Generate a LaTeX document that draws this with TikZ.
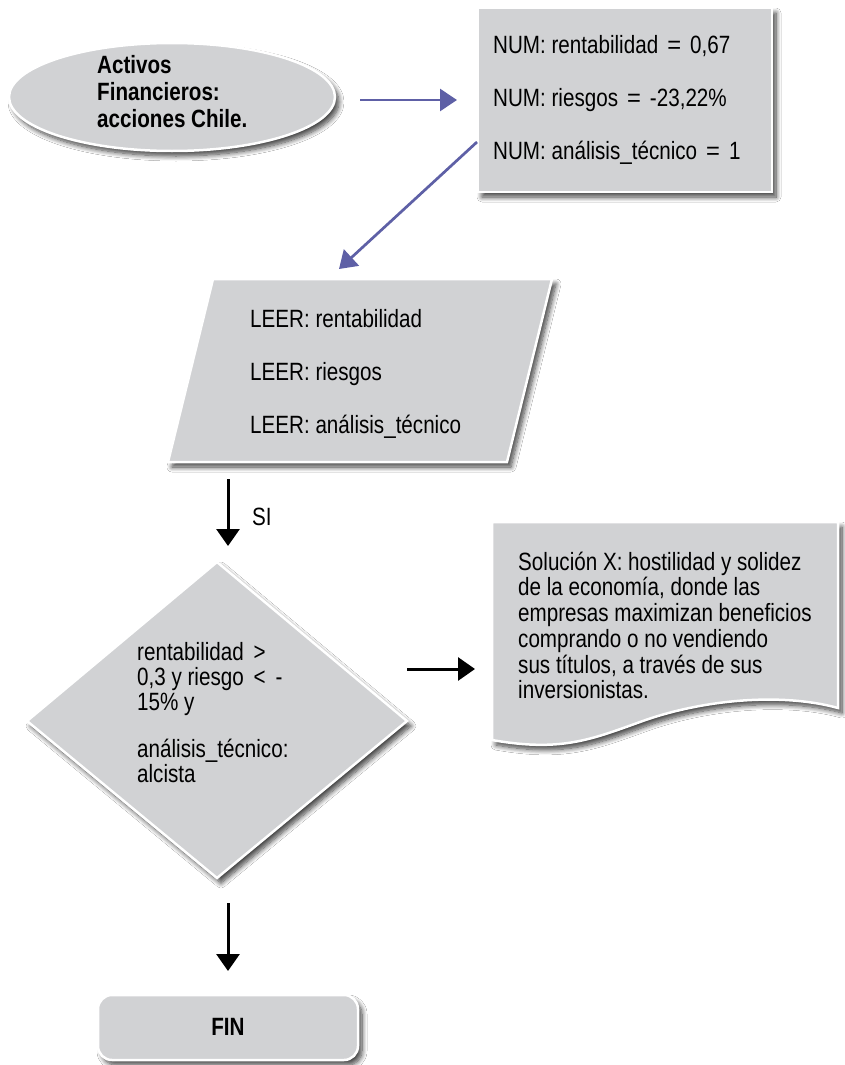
\documentclass[tikz,border=0pt]{standalone}
\usepackage{fontspec}
\setmainfont{Liberation Sans}[FakeStretch=0.825]
\usetikzlibrary{arrows.meta,shadows.blur}
\definecolor{boxgray}{RGB}{209,210,212}
\definecolor{flowblue}{RGB}{94,96,166}
\tikzset{
  shapebox/.style={fill=boxgray, draw=white, line width=2.5pt,
    blur shadow={shadow xshift=4pt, shadow yshift=-5pt, shadow blur radius=5pt, shadow blur steps=10, shadow opacity=75}},
  txt/.style={anchor=north west, inner sep=0pt, align=left, font=\fontsize{25}{25.5}\selectfont},
  bluearrow/.style={draw=flowblue, line width=2.7pt, -{Triangle[length=17pt,width=22pt]}},
  blackarrow/.style={draw=black, line width=3pt, -{Triangle[length=17pt,width=23pt]}},
}
\newcommand\fl{\rule{0pt}{20pt}}
\newcommand\eqsign{\hspace{9pt}\scalebox{1.15}[1]{=}\hspace{9pt}}
\begin{document}
\begin{tikzpicture}[x=1pt,y=-1pt]
\fill[white] (0,0) rectangle (845,1065);
\useasboundingbox (0,0) rectangle (845,1065);
% shapes
\draw[shapebox] (172,97) ellipse [x radius=163, y radius=54];
\draw[shapebox] (478,8) rectangle (772,192);
\draw[shapebox] (213,279) -- (552,279) -- (507,462) -- (168,462) -- cycle;
\draw[shapebox] (217,562) -- (407,721) -- (217,878) -- (27,721) -- cycle;
\draw[shapebox] (492,522) -- (838,522) -- (838,708) .. controls (780,692) and (700,700) .. (640,722) .. controls (590,740) and (560,752) .. (492,740) -- cycle;
\draw[shapebox, rounded corners=14pt] (98,995) rectangle (358,1060);
% texts
\node[txt, font=\fontsize{25}{27}\selectfont\bfseries] (inicio) at (97,53) {\fl Activos\\Financieros:\\acciones Chile.};
\node[txt] (num) at (493,33) {\fl NUM: rentabilidad\eqsign 0,67\\[27.5pt]NUM: riesgos\eqsign -23,22\%\\[27.5pt]NUM: análisis\_técnico\eqsign 1};
\node[txt] (leer) at (250,307) {\fl LEER: rentabilidad\\[27.5pt]LEER: riesgos\\[27.5pt]LEER: análisis\_técnico};
\node[txt, font=\fontsize{25}{25}\selectfont] (cond) at (137,640) {\fl rentabilidad \,>\\0,3 y riesgo \,<\, -\\15\% y\\[22pt]análisis\_técnico:\\alcista};
\node[txt, font=\fontsize{25}{25.7}\selectfont] (sol) at (518,550) {\fl Solución X: hostilidad y solidez\\de la economía, donde las\\empresas maximizan beneficios\\comprando o no vendiendo\\sus títulos, a través de sus\\inversionistas.};
\node[anchor=west, inner sep=0pt, font=\fontsize{25}{25.5}\selectfont] (si) at (252,517) {SI};
\node[inner sep=0pt, font=\fontsize{25}{25.5}\selectfont\bfseries] (fin) at (228,1027) {FIN};
% connectors
\coordinate (a1s) at (360,100); \coordinate (a1e) at (457,100);
\coordinate (a2s) at (477,142); \coordinate (a2e) at (339,269);
\coordinate (a3s) at (228,479); \coordinate (a3e) at (228,546);
\coordinate (a4s) at (407,669); \coordinate (a4e) at (475,669);
\coordinate (a5s) at (228,903); \coordinate (a5e) at (228,971);
\draw[bluearrow] (a1s) -- (a1e);
\draw[bluearrow] (a2s) -- (a2e);
\draw[blackarrow] (a3s) -- (a3e);
\draw[blackarrow] (a4s) -- (a4e);
\draw[blackarrow] (a5s) -- (a5e);
\end{tikzpicture}
\end{document}
